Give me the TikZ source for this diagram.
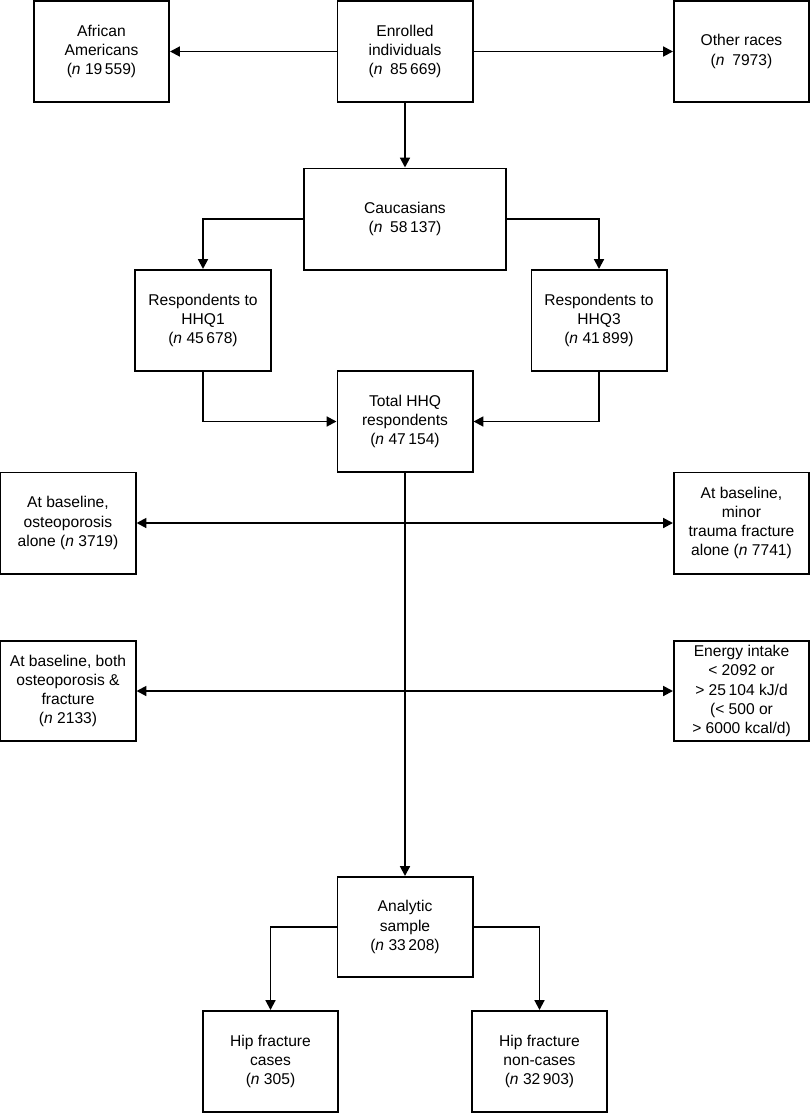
\documentclass[tikz,border=0pt]{standalone}
\usepackage{fontspec}
\setmainfont{Liberation Sans}
\usetikzlibrary{arrows.meta}

\tikzset{
  flowbox/.style={draw, line width=1.4pt, align=center, inner sep=1pt,
    minimum width=3.375cm, minimum height=2.525cm,
    font=\fontsize{11.1}{13.6}\selectfont},
  flowarrow/.style={line width=1.4pt, -{Triangle[length=7pt,width=7pt]}},
}

\begin{document}
\begin{tikzpicture}[x=0.025cm, y=-0.025cm]

\useasboundingbox (0,0) rectangle (810,1113);

\node[flowbox] (AA) at (101.5, 51.5) {African\\Americans\\(\textit{n} 19\,559)};
\node[flowbox] (ENR) at (405, 51.5) {Enrolled\\individuals\\(\textit{n}\enspace 85\,669)};
\node[flowbox] (OTH) at (741.5, 51.5) {Other races\\(\textit{n}\enspace 7973)};

\node[flowbox, minimum width=5.05cm] (CAU) at (405, 219) {Caucasians\\(\textit{n}\enspace 58\,137)};

\node[flowbox] (HQ1) at (203, 320.5) {Respondents to\\HHQ1\\(\textit{n} 45\,678)};
\node[flowbox] (HQ3) at (599, 320.5) {Respondents to\\HHQ3\\(\textit{n} 41\,899)};
\node[flowbox] (TOT) at (405, 421.5) {Total HHQ\\respondents\\(\textit{n} 47\,154)};

\node[flowbox] (OST) at (68, 523) {At baseline,\\osteoporosis\\alone (\textit{n} 3719)};
\node[flowbox] (MTF) at (741.5, 523) {At baseline,\\minor\\trauma fracture\\alone (\textit{n} 7741)};
\node[flowbox, minimum height=2.5cm] (BOT) at (68, 691) {At baseline, both\\osteoporosis \&\\fracture\\(\textit{n} 2133)};
\node[flowbox, minimum height=2.5cm] (ENE) at (741.5, 691) {Energy intake\\< 2092 or\\> 25\,104 kJ/d\\(< 500 or\\> 6000 kcal/d)};

\node[flowbox, minimum height=2.5cm] (ANA) at (405, 927) {Analytic\\sample\\(\textit{n} 33\,208)};
\node[flowbox] (CAS) at (270.5, 1061.5) {Hip fracture\\cases\\(\textit{n} 305)};
\node[flowbox] (NCA) at (539.5, 1061.5) {Hip fracture\\non-cases\\(\textit{n} 32\,903)};

\coordinate (X1) at (TOT.south |- OST.east);
\coordinate (X2) at (TOT.south |- BOT.east);

\draw[flowarrow] (ENR.west) -- (AA.east);
\draw[flowarrow] (ENR.east) -- (OTH.west);
\draw[flowarrow] (ENR.south) -- (CAU.north);
\draw[flowarrow] (CAU.west) -| (HQ1.north);
\draw[flowarrow] (CAU.east) -| (HQ3.north);
\draw[flowarrow] (HQ1.south) |- (TOT.west);
\draw[flowarrow] (HQ3.south) |- (TOT.east);
\draw[flowarrow] (TOT.south) -- (ANA.north);
\draw[flowarrow] (X1) -- (OST.east);
\draw[flowarrow] (X1) -- (MTF.west);
\draw[flowarrow] (X2) -- (BOT.east);
\draw[flowarrow] (X2) -- (ENE.west);
\draw[flowarrow] (ANA.west) -| (CAS.north);
\draw[flowarrow] (ANA.east) -| (NCA.north);

\end{tikzpicture}
\end{document}
